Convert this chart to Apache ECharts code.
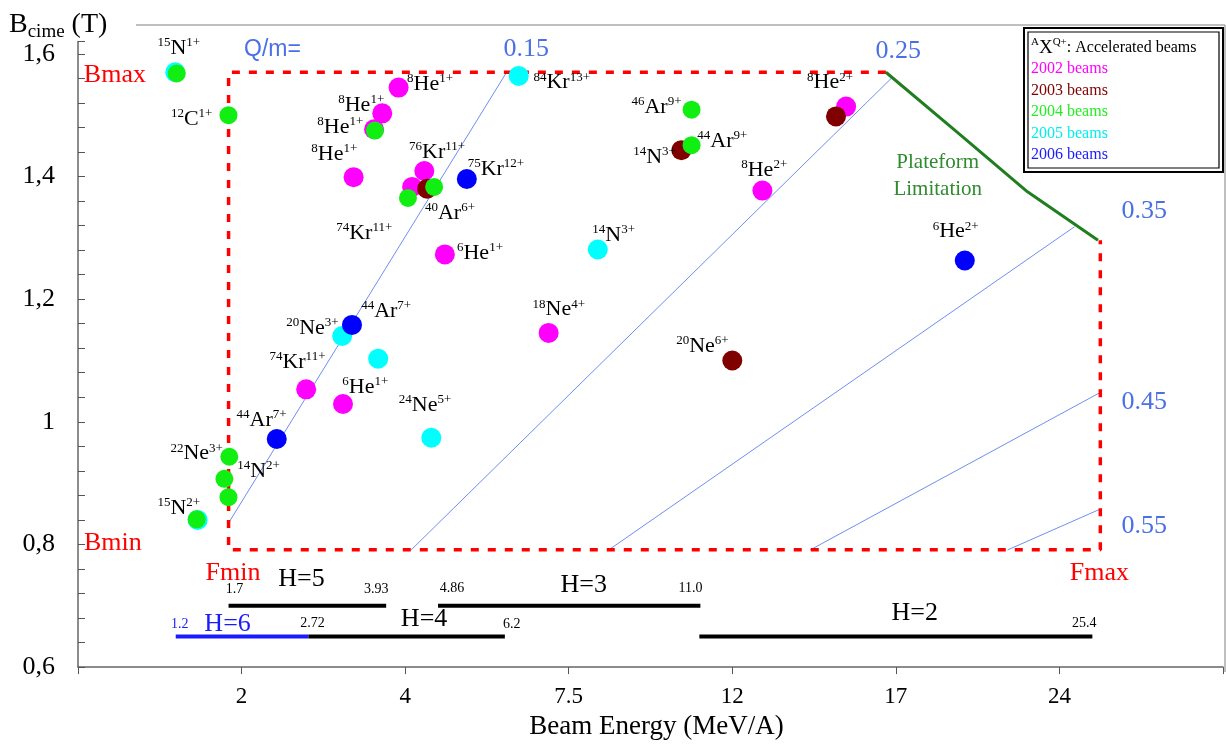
<!DOCTYPE html>
<html><head><meta charset="utf-8">
<script src="https://cdn.jsdelivr.net/npm/echarts@6/dist/echarts.min.js"></script>
<style>html,body{margin:0;padding:0;background:#fff}#c{width:1226px;height:745px}</style>
</head><body><div id="c"></div>
<script>
// ---- axis definition (non-uniform energy axis: equally spaced ticks) ----
const tickEnergies = [0, 2, 4, 7.5, 12, 17, 24, 31];
const tickLabels = ['', '2', '4', '7.5', '12', '17', '24', ''];

// ---- beams: [Energy (MeV/A), Bcime (T)] ----
const beams2002 = [[3.92,1.545],[3.72,1.503],[3.62,1.477],[3.37,1.399],[4.41,1.409],[4.15,1.383],
  [15.48,1.514],[12.92,1.377],[4.85,1.273],[7.07,1.145],[2.79,1.053],[3.24,1.029]];
const beams2003 = [[4.47,1.380],[10.60,1.443],[15.17,1.498],[12.0,1.100]];
const beams2004 = [[1.207,1.568],[1.84,1.500],[3.63,1.475],[4.62,1.383],[4.06,1.365],[10.88,1.509],
  [10.88,1.451],[1.85,0.943],[1.79,0.907],[1.84,0.877],[1.451,0.841]];
const beams2005 = [[1.189,1.570],[6.43,1.564],[8.30,1.281],[3.23,1.140],[3.67,1.103],[4.56,0.974],[1.463,0.840]];
const beams2006 = [[5.32,1.396],[19.95,1.263],[3.35,1.158],[2.43,0.972]];

// ---- Q/m lines ----
const qm015 = [[1.841,0.835],[6.155,1.568]];
const qm025 = [[4.128,0.791],[16.878,1.561]];
const qm035 = [[8.598,0.791],[24.64,1.318]];
const qm045 = [[14.378,0.791],[25.707,1.047]];
const qm055 = [[21.78,0.791],[25.707,0.857]];

// ---- acceptance window & platform limitation ----
const Bmax = 1.570, Bmin = 0.7914, Fmin = 1.841, Fmax = 25.75;
const windowPath = [[16.695,Bmax],[Fmin,Bmax],[Fmin,Bmin],[Fmax,Bmin],[Fmax,1.296]];
const plateformLimit = [[16.695,1.570],[19.646,1.4715],[22.634,1.3751],[25.65,1.296]];

// ---- harmonic ranges [E, B] ----
const hH5 = [[1.841,0.700],[3.768,0.700]];
const hH3 = [[4.704,0.700],[11.122,0.700]];
const hH6 = [[1.195,0.650],[2.817,0.650]];
const hH4 = [[2.817,0.650],[6.134,0.650]];
const hH2 = [[11.094,0.650],[25.409,0.650]];

// ---- ion labels [A, X, Q, E, B] ----
const ionLabels = [
 ['15','N','1+',1.232,1.610],['12','C','1+',1.390,1.493],['8','He','1+',4.534,1.550],
 ['8','He','1+',3.463,1.516],['8','He','1+',3.207,1.480],['8','He','1+',3.134,1.437],
 ['76','Kr','11+',4.683,1.440],['75','Kr','12+',5.942,1.412],['84','Kr','13+',7.351,1.553],
 ['46','Ar','9+',9.915,1.513],['44','Ar','9+',11.726,1.458],['14','N','3+',9.860,1.432],
 ['8','He','2+',14.988,1.553],['8','He','2+',12.976,1.411],['40','Ar','6+',4.960,1.340],
 ['74','Kr','11+',3.500,1.307],['6','He','1+',5.601,1.275],['14','N','3+',8.735,1.304],
 ['6','He','2+',19.561,1.310],['20','Ne','3+',2.866,1.153],['44','Ar','7+',3.768,1.181],
 ['18','Ne','4+',7.287,1.183],['20','Ne','6+',11.177,1.124],['74','Kr','11+',2.683,1.097],
 ['6','He','1+',3.512,1.056],['24','Ne','5+',4.427,1.027],['44','Ar','7+',2.244,1.003],
 ['22','Ne','3+',1.451,0.948],['14','N','2+',2.207,0.919],['15','N','2+',1.232,0.859]
];
// ---- other annotations [text, style, E, B] ----
const notes = [
 ['Bmax','r',0.451,1.566],['Bmin','r',0.427,0.802],['Fmin','r',1.896,0.753],['Fmax','r',25.707,0.753],
 ['Q/m=','qs',2.378,1.6065],['0.15','q',6.593,1.608],['0.25','q',17.107,1.605],
 ['0.35','q',27.628,1.343],['0.45','q',27.628,1.032],['0.55','q',27.628,0.830],
 ['H=5','h',2.732,0.743],['1.7','t',1.915,0.727],['3.93','t',3.646,0.727],
 ['H=6','hb',1.829,0.670],['1.2','tb',1.244,0.669],['2.72','t',2.866,0.671],
 ['H=4','h',4.405,0.6785],['6.2','t',6.283,0.670],
 ['H=3','h',7.912,0.7335],['4.86','t',5.003,0.728],['11.0','t',10.848,0.728],
 ['H=2','h',17.811,0.688],['25.4','t',25.067,0.671],
 ['Plateform\nLimitation','g',18.793,1.401]
];

function toPos(E){
  for (let i=1;i<tickEnergies.length;i++){
    if (E<=tickEnergies[i] || i===tickEnergies.length-1){
      const a=tickEnergies[i-1], b=tickEnergies[i];
      return (i-1)+(E-a)/(b-a);
    }
  }
}
const P = arr => arr.map(d => [toPos(d[0]), d[1]]);

const serif = 'Liberation Serif';
const labelData = ionLabels.map(d => [toPos(d[3]), d[4], '{s|'+d[0]+'}{m|'+d[1]+'}{s|'+d[2]+'}'])
  .concat(notes.map(n => [toPos(n[2]), n[3], n[0].split('\n').map(t => '{'+n[1]+'|'+t+'}').join('\n')]));

function lineSeries(name, data, color, width, type){
  return {name, type:'line', data:P(data), symbol:'none', silent:true, z:2,
    lineStyle:{color, width, type: type||'solid'}};
}
function beamSeries(name, data, color, size){
  return {name, type:'scatter', data:P(data), symbol:'circle', symbolSize:size, z:5,
    itemStyle:{color, opacity:1}, silent:true};
}
const rs = (size, color, lh, extra) => Object.assign({fontSize:size, fontFamily:serif, fontWeight:'normal', color, lineHeight:lh, textBorderWidth:0}, extra||{});

const chart = echarts.init(document.getElementById('c'), null, {renderer:'canvas'});
chart.setOption({
  animation:false,
  backgroundColor:'#fff',
  title:[
    {text:'{b|B}{s|cime}{b| (T)}', left:9, top:8, padding:0,
     textStyle:{fontWeight:'normal', rich:{b:rs(28,'#000',34), s:rs(19,'#000',22,{verticalAlign:'bottom'})}}},
    {text:'{s|A}{m|X}{s|Q+}{t|: Accelerated beams}', left:1031, top:37, padding:0,
     textStyle:{fontWeight:'normal', rich:{m:rs(19,'#000',22), s:rs(11,'#000',11,{verticalAlign:'top'}), t:rs(16,'#000',22)}}}
  ],
  legend:{
    data:[{name:'2002 beams',textStyle:{color:'#ff00ff'}},{name:'2003 beams',textStyle:{color:'#800000'}},
          {name:'2004 beams',textStyle:{color:'#22ee22'}},{name:'2005 beams',textStyle:{color:'#00eeee'}},
          {name:'2006 beams',textStyle:{color:'#1a1aff'}}],
    orient:'vertical', left:1026, top:61, padding:0, itemGap:5.5, itemWidth:0, itemHeight:16,
    itemStyle:{opacity:0}, selectedMode:false,
    textStyle:{fontFamily:serif, fontSize:16}
  },
  grid:{left:78, right:0, top:41.6, bottom:73, containLabel:false},
  xAxis:{type:'value', min:0, max:7, interval:1,
    name:'Beam Energy (MeV/A)', nameLocation:'middle', nameGap:40,
    nameTextStyle:{fontFamily:serif, fontSize:27, color:'#000', padding:[0,0,0,12]},
    axisLine:{lineStyle:{color:'#666', width:1.5}},
    axisTick:{show:true, length:7, lineStyle:{color:'#555'}},
    axisLabel:{formatter:v => tickLabels[Math.round(v)] || '', fontFamily:serif, fontSize:23, color:'#000', margin:18},
    splitLine:{show:false}},
  yAxis:{type:'value', min:0.6, max:1.62, interval:0.2,
    axisLine:{show:true, lineStyle:{color:'#666', width:1.5}},
    axisTick:{show:true, inside:true, length:7, lineStyle:{color:'#555'}},
    minorTick:{show:true, splitNumber:5, length:7, lineStyle:{color:'#555'}},
    axisLabel:{formatter:v => String(+v.toFixed(1)).replace('.', ','), fontFamily:serif, fontSize:26, color:'#000', margin:23, showMaxLabel:false},
    splitLine:{show:false}},
  graphic:[
    {type:'line', shape:{x1:136,y1:25,x2:1225,y2:25}, style:{stroke:'#aaa', lineWidth:1.5}, silent:true},
    {type:'line', shape:{x1:1225,y1:25,x2:1225,y2:672}, style:{stroke:'#aaa', lineWidth:1.5}, silent:true},
    {type:'rect', shape:{x:1024,y:28,width:199,height:144}, style:{fill:'none', stroke:'#000', lineWidth:2}, silent:true},
    {type:'rect', shape:{x:1028,y:32,width:191,height:136}, style:{fill:'none', stroke:'#000', lineWidth:1.2}, silent:true}
  ],
  series:[
    lineSeries('qm015', qm015, '#6f8ff0', 1),
    lineSeries('qm025', qm025, '#6f8ff0', 1),
    lineSeries('qm035', qm035, '#6f8ff0', 1),
    lineSeries('qm045', qm045, '#6f8ff0', 1),
    lineSeries('qm055', qm055, '#6f8ff0', 1),
    lineSeries('window', windowPath, '#ff0000', 3.5, [8,9]),
    lineSeries('plateform', plateformLimit, '#1f7f1f', 3),
    lineSeries('H5', hH5, '#000', 4), lineSeries('H3', hH3, '#000', 4),
    lineSeries('H6', hH6, '#1a1aff', 4), lineSeries('H4', hH4, '#000', 4), lineSeries('H2', hH2, '#000', 4),
    beamSeries('2002 beams', beams2002, '#ff00ff', 20),
    beamSeries('2003 beams', beams2003, '#800000', 20),
    beamSeries('2005 beams', beams2005, '#00ffff', 20),
    beamSeries('2004 beams', beams2004, '#11ee11', 18),
    beamSeries('2006 beams', beams2006, '#0000ff', 20),
    {name:'labels', type:'scatter', data:labelData, symbolSize:1, itemStyle:{color:'rgba(0,0,0,0)', opacity:1}, silent:true, z:10,
     label:{show:true, position:'inside', formatter:p => p.data[2], color:'#000', opacity:1, textBorderWidth:0, textShadowBlur:0,
       rich:{
         m:rs(22,'#000',24),
         s:rs(13,'#000',13,{verticalAlign:'top'}),
         r:rs(26,'#ff0000',28),
         q:rs(26,'#4a6fe6',28),
         qs:rs(23,'#4a6fe6',26,{fontFamily:'Liberation Sans'}),
         h:rs(26,'#000',28),
         hb:rs(26,'#1a1aff',28),
         t:rs(14,'#000',16),
         tb:rs(14,'#1a1aff',16),
         g:rs(21,'#2e8b2e',27)
       }}}
  ]
});
</script></body></html>
